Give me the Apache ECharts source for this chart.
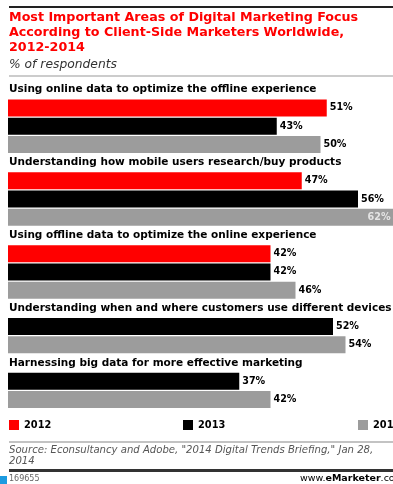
<!DOCTYPE html>
<html>
<head>
<meta charset="utf-8">
<script src="https://cdn.jsdelivr.net/npm/echarts@6/dist/echarts.min.js"></script>
<style>
  html, body { margin: 0; padding: 0; background: #fff; }
  #chart { width: 393px; height: 484px; }
</style>
</head>
<body>
<div id="chart"></div>
<script>
// Survey results: share of respondents naming each area, by year
const titleLines = [
  'Most Important Areas of Digital Marketing Focus',
  'According to Client-Side Marketers Worldwide,',
  '2012-2014'
];
const subtitle = '% of respondents';
const categories = [
  'Using online data to optimize the offline experience',
  'Understanding how mobile users research/buy products',
  'Using offline data to optimize the online experience',
  'Understanding when and where customers use different devices',
  'Harnessing big data for more effective marketing'
];
const years = ['2012', '2013', '2014'];
const values2012 = [51, 47, 42, null, null];
const values2013 = [43, 56, 42, 52, 37];
const values2014 = [50, 62, 46, 54, 42];
const sourceLines = [
  'Source: Econsultancy and Adobe, "2014 Digital Trends Briefing," Jan 28,',
  '2014'
];
const footerId = '169655';

const yearColors = ['#ff0000', '#000000', '#9c9c9c'];
const yearValues = [values2012, values2013, values2014];
const legendLeft = [9, 183, 358];
const FONT = '"DejaVu Sans", Verdana, sans-serif';

// One axis row per heading, then one row per year that has a value
const rows = [];
categories.forEach((cat, ci) => {
  rows.push({ heading: cat });
  yearValues.forEach((vals, yi) => {
    if (vals[ci] != null) rows.push({ year: yi, value: vals[ci] });
  });
});

const series = years.map((yr, yi) => ({
  name: yr,
  type: 'bar',
  stack: 'rows',
  barWidth: 17,
  clip: false,
  itemStyle: { color: yearColors[yi] },
  label: {
    show: true,
    position: 'right',
    distance: 3,
    formatter: p => p.value + '%',
    fontFamily: FONT,
    fontWeight: 'bold',
    fontSize: 9.6,
    color: '#000'
  },
  data: rows.map(r => {
    if (r.year !== yi) return '-';
    if (r.value >= 60) {
      // long bars carry their label inside the bar end
      return { value: r.value, label: { position: 'insideRight', distance: 5, color: '#e4e4e4' } };
    }
    return r.value;
  })
}));

const legends = years.map((yr, yi) => ({
  data: [yr],
  left: legendLeft[yi], top: 420, padding: 0,
  icon: 'rect', itemWidth: 10, itemHeight: 10,
  selectedMode: false,
  textStyle: { fontFamily: FONT, fontWeight: 'bold', fontSize: 9.8, color: '#000' }
}));

const chart = echarts.init(document.getElementById('chart'), null, { renderer: 'canvas' });
chart.setOption({
  animation: false,
  backgroundColor: '#ffffff',
  title: [
    {
      text: titleLines.join('\n'),
      left: 9, top: 10.5, padding: 0,
      textStyle: { fontFamily: FONT, fontWeight: 'bold', fontSize: 12.7, lineHeight: 15, color: '#ff0000' }
    },
    {
      text: subtitle,
      left: 9, top: 58, padding: 0,
      textStyle: { fontFamily: FONT, fontStyle: 'italic', fontWeight: 'normal', fontSize: 12.3, lineHeight: 14, color: '#333' }
    },
    {
      text: sourceLines.join('\n'),
      left: 9, top: 444.5, padding: 0,
      textStyle: { fontFamily: FONT, fontStyle: 'italic', fontWeight: 'normal', fontSize: 10.1, lineHeight: 11.5, color: '#555' }
    }
  ],
  legend: legends,
  grid: { left: 8, top: 80.6, width: 400, height: 328, outerBoundsMode: 'none', containLabel: false },
  xAxis: { type: 'value', min: 0, max: 64, show: false },
  yAxis: {
    type: 'category',
    inverse: true,
    data: rows.map((r, i) => r.heading || ('row' + i)),
    axisLine: { show: false },
    axisTick: { show: false },
    splitLine: { show: false },
    axisLabel: {
      inside: true,
      interval: 0,
      margin: 1,
      align: 'left',
      fontFamily: FONT,
      fontWeight: 'bold',
      fontSize: 10.5,
      color: '#000',
      padding: [2, 0, 0, 0],
      formatter: v => (v.startsWith('row') ? '' : v)
    }
  },
  series: series,
  graphic: [
    { type: 'rect', shape: { x: 9, y: 6, width: 400, height: 2 }, style: { fill: '#222' }, silent: true },
    { type: 'rect', shape: { x: 9, y: 75.5, width: 400, height: 1 }, style: { fill: '#999' }, silent: true },
    { type: 'rect', shape: { x: 9, y: 441.5, width: 400, height: 1 }, style: { fill: '#888' }, silent: true },
    { type: 'rect', shape: { x: 9, y: 469, width: 400, height: 3 }, style: { fill: '#333' }, silent: true },
    { type: 'rect', shape: { x: 0, y: 476, width: 7, height: 8 }, style: { fill: '#1c9be0' }, silent: true },
    {
      type: 'text', x: 9, y: 479,
      style: { text: footerId, fontFamily: FONT, fontSize: 8, fill: '#666', verticalAlign: 'middle' },
      silent: true
    },
    {
      type: 'text', x: 300, y: 479,
      style: {
        text: '{a|www.}{b|e}{c|Marketer}{a|.com}',
        verticalAlign: 'middle',
        rich: {
          a: { fontFamily: FONT, fontSize: 9.5, color: '#333' },
          b: { fontFamily: FONT, fontSize: 9.5, fontWeight: 'bold', color: '#ff0000' },
          c: { fontFamily: FONT, fontSize: 9.5, fontWeight: 'bold', color: '#222' }
        }
      },
      silent: true
    }
  ]
});
</script>
</body>
</html>
